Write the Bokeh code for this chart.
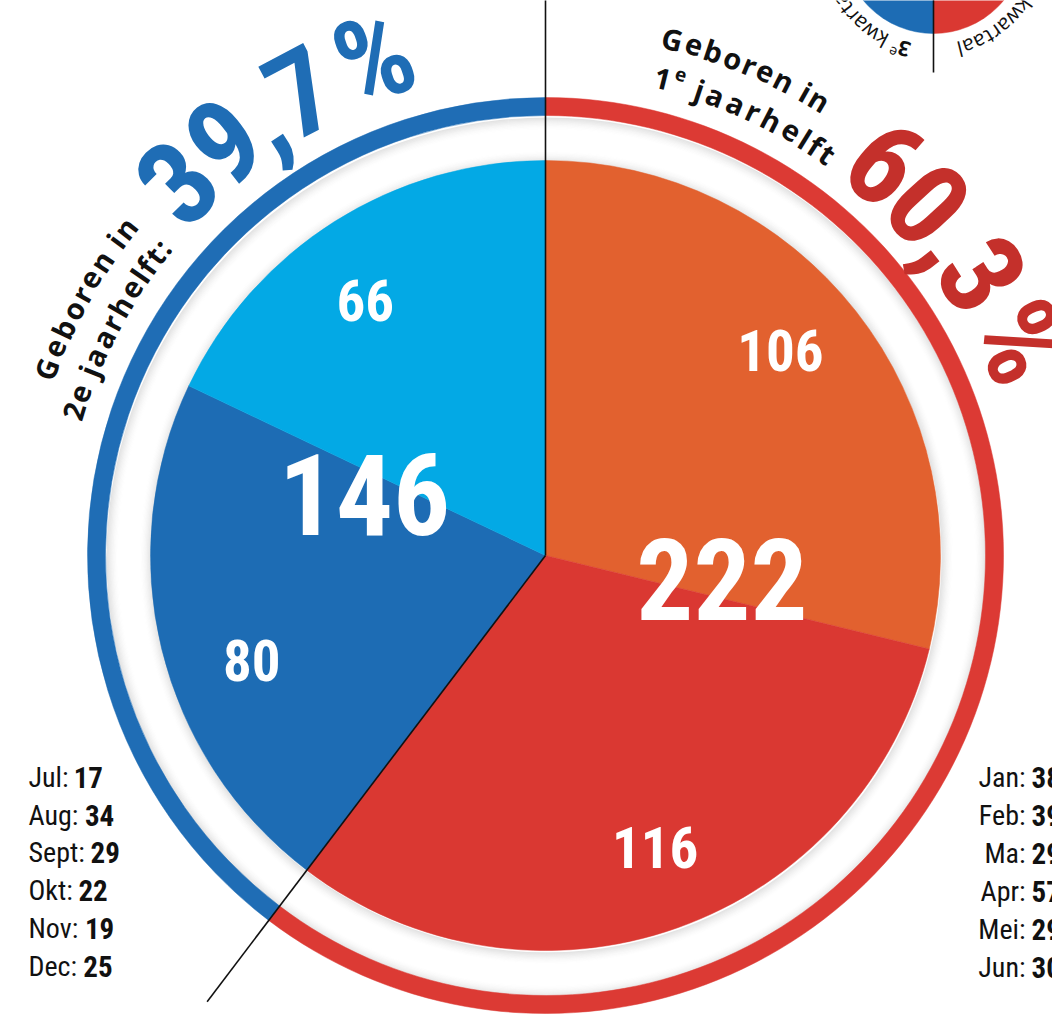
import numpy as np
from bokeh.plotting import figure
from bokeh.models import ColumnDataSource
from bokeh.core.properties import value
from bokeh.embed import file_html
from bokeh.resources import INLINE

# ---------------- data ----------------
months_h1 = ["Jan", "Feb", "Ma", "Apr", "Mei", "Jun"]
births_h1 = [38, 39, 29, 57, 29, 30]
months_h2 = ["Jul", "Aug", "Sept", "Okt", "Nov", "Dec"]
births_h2 = [17, 34, 29, 22, 19, 25]
quarter_names = ["1e kwartaal", "2e kwartaal", "3e kwartaal", "4e kwartaal"]
quarter_births = [sum(births_h1[0:3]), sum(births_h1[3:6]),
                  sum(births_h2[0:3]), sum(births_h2[3:6])]
half_births = [sum(births_h1), sum(births_h2)]
total = sum(half_births)
half_pct = [f"{100 * v / total:.1f}%".replace(".", ",") for v in half_births]

# ---------------- styles ----------------
QCOL = ["#e2612f", "#da3832", "#1d6cb4", "#03a9e5"]
RING_COL = ["#dc3a34", "#1f6db5"]
PCT_COL = ["#c4302b", "#1f6db5"]
COND = "'Roboto Condensed', Roboto, sans-serif"
HEAVY = "'Roboto Condensed Black', 'Roboto Condensed', Roboto, sans-serif"
SANS = "Open Sans"

W, H = 1052, 1014
def Y(yr):
    return H - yr

CX, CY = 545, Y(555)
R_PIE, R_RING_IN, R_RING_OUT = 395, 440, 458
Q_LABEL_NUDGE = [-3, -1, -6, -3]      # degrees, label placement only
H_LABEL_NUDGE = [-11, 0]

def pol(r, th, cx=CX, cy=CY):
    t = np.radians(np.asarray(th, dtype=float))
    return cx + r * np.sin(t), cy + r * np.cos(t)

def bk(th):
    return np.radians(90 - np.asarray(th, dtype=float))

W_TAB = {'G': 0.74, 'e': 0.58, 'b': 0.62, 'o': 0.61, 'r': 0.43, 'n': 0.63, ' ': 0.26,
         'i': 0.29, 'j': 0.29, 'a': 0.59, 'h': 0.63, 'l': 0.29, 'f': 0.37, 't': 0.41,
         ':': 0.28, ',': 0.24, '%': 0.80, 'k': 0.53, 'w': 0.78}
COND_REG = {'J': 0.47, 'u': 0.50, 'l': 0.22, ':': 0.21, 'A': 0.59, 'g': 0.50,
            'S': 0.53, 'e': 0.47, 'p': 0.50, 't': 0.29, 'O': 0.62, 'k': 0.45,
            'N': 0.64, 'o': 0.51, 'v': 0.44, 'D': 0.59, 'c': 0.47}

def wd(ch):
    if ch.isdigit():
        return 0.5
    return W_TAB.get(ch, 0.55)

def chars(s, size, raise_=0.0, font=SANS, style="bold", color="#111111"):
    return [(c, size, raise_, font, style, color) for c in s]

def place(items, ths, r_mid, cx, cy, out):
    for (c, size, rz, font, style, color), th in zip(items, ths):
        if c == " ":
            continue
        x, y = pol(r_mid + rz, th, cx, cy)
        out.append(dict(x=float(x), y=float(y), t=c, a=float(-np.radians(th)),
                        s=f"{size}px", font=font, style=style, color=color))

def arc_fit(items, th0, th1, r_mid, out, cx=CX, cy=CY):
    adv = np.array([wd(it[0]) * it[1] for it in items])
    cen = np.cumsum(adv) - adv / 2
    frac = (cen - cen[0]) / (cen[-1] - cen[0])
    place(items, th0 + frac * (th1 - th0), r_mid, cx, cy, out)

def arc_nat(items, th_anchor, r_mid, out, anchor="start", cx=CX, cy=CY):
    adv = np.array([wd(it[0]) * it[1] for it in items])
    cen = np.cumsum(adv) - adv / 2
    ref = cen[0] if anchor == "start" else cen[-1]
    ths = th_anchor + np.degrees((cen - ref) / r_mid)
    place(items, ths, r_mid, cx, cy, out)

# ---------------- figure ----------------
p = figure(width=W, height=H, x_range=(0, W), y_range=(0, H),
           output_backend="svg", toolbar_location=None, min_border=0,
           x_axis_type=None, y_axis_type=None, outline_line_color=None,
           background_fill_color="white", border_fill_color="white")

# shadows
for i in range(10):
    a = 0.11 * (1 - i / 10) ** 1.6
    p.annulus(x=CX + 1, y=CY - 2, inner_radius=R_PIE + i * 1.2, outer_radius=R_PIE + (i + 1) * 1.2,
              fill_color="black", fill_alpha=a, line_color=None)
    p.annulus(x=CX + 1, y=CY - 2, inner_radius=R_RING_IN - (i + 1) * 1.2, outer_radius=R_RING_IN - i * 1.2,
              fill_color="black", fill_alpha=a, line_color=None)

# main pie
cum = np.concatenate([[0], np.cumsum(quarter_births)]) / total * 360
qsrc = ColumnDataSource(dict(start=bk(cum[:-1]), end=bk(cum[1:]), color=QCOL,
                             name=quarter_names, births=quarter_births))
p.wedge(x=CX, y=CY, radius=R_PIE, start_angle="start", end_angle="end", direction="clock",
        fill_color="color", line_color="color", line_width=0.5, source=qsrc)

# outer ring per half year
hcum = np.concatenate([[0], np.cumsum(half_births)]) / total * 360
p.annular_wedge(x=CX, y=CY, inner_radius=R_RING_IN, outer_radius=R_RING_OUT,
                start_angle=bk(hcum[:-1]), end_angle=bk(hcum[1:]), direction="clock",
                fill_color=RING_COL, line_color=RING_COL, line_width=0.5)

# half-year divider lines
lx, ly = pol(np.array([620, 560]), hcum[:-1])
p.segment(x0=[CX, CX], y0=[CY, CY], x1=lx, y1=ly, line_color="#111111", line_width=1.6)

# quarter labels
qmid = (cum[:-1] + cum[1:]) / 2 + np.array(Q_LABEL_NUDGE)
qx, qy = pol(312, qmid)
p.text(x=qx, y=qy, text=[str(v) for v in quarter_births], text_align="center",
       text_baseline="middle", text_color="white", text_font=value(HEAVY),
       text_font_style="bold", text_font_size="57px")

# half labels
hmid = (hcum[:-1] + hcum[1:]) / 2 + np.array(H_LABEL_NUDGE)
hx, hy = pol(np.array([178, 191]), hmid)
p.text(x=hx, y=hy, text=[str(v) for v in half_births], text_align="center",
       text_baseline="middle", text_color="white", text_font=value(HEAVY),
       text_font_style="bold", text_font_size="113px")

# curved titles
recs = []
# 1st half (right)
arc_fit(chars("Geboren in", 29), 13.8, 31.0, 532, recs)
arc_fit(chars("1", 29) + chars("e", 19, 9) + chars(" jaarhelft", 29), 13.8, 35.1, 491, recs)
arc_fit(chars(half_pct[0], 118, 0, HEAVY, "bold", PCT_COL[0]), 40.9, 65.8, 520, recs)
# 2nd half (left)
arc_fit(chars("Geboren in", 29), 290.5, 307.9, 533, recs)
arc_fit(chars("2e jaarhelft:", 29), 287.0, 308.9, 493, recs)
arc_fit(chars(half_pct[1], 118, 0, HEAVY, "bold", PCT_COL[1]), 315.4, 341.0, 525, recs)

# small legend pie (top right, partly outside)
SCX, SCY, SR = 933, Y(-58), 91
p.wedge(x=SCX, y=SCY, radius=SR, start_angle=bk([0, 90, 180, 270]), end_angle=bk([90, 180, 270, 360]),
        direction="clock", fill_color=QCOL, line_color=QCOL, line_width=0.5)
sx, sy = pol(130, 180, SCX, SCY)
p.segment(x0=[SCX], y0=[SCY], x1=[sx], y1=[sy], line_color="#111111", line_width=1.6)
arc_nat(chars("2", 21, 0, SANS, "bold") + chars("e", 14, 7, SANS, "normal") +
        chars(" kwartaal", 21, 0, SANS, "normal"), 166, 110, recs, anchor="end", cx=SCX, cy=SCY)
arc_nat(chars("3", 21, 0, SANS, "bold") + chars("e", 14, 7, SANS, "normal") +
        chars(" kwartaal", 21, 0, SANS, "normal"), 195.5, 110, recs, anchor="start", cx=SCX, cy=SCY)

groups = {}
for r in recs:
    groups.setdefault((r["font"], r["style"]), []).append(r)
for (font, style), rs in groups.items():
    src = ColumnDataSource(dict(x=[r["x"] for r in rs], y=[r["y"] for r in rs],
                                t=[r["t"] for r in rs], a=[r["a"] for r in rs],
                                s=[r["s"] for r in rs], c=[r["color"] for r in rs]))
    p.text(x="x", y="y", text="t", angle="a", text_font_size="s", text_color="c",
           text_align="center", text_baseline="middle", text_font=value(font),
           text_font_style=style, source=src)

# month lists
FS_M = 28
def label_w(s):
    return sum(COND_REG.get(c, 0.48) for c in s) * FS_M

lab2 = [m + ":" for m in months_h2]
y2 = [Y(777 + 37.7 * i) for i in range(len(months_h2))]
p.text(x=[28] * len(lab2), y=y2, text=lab2, text_align="left", text_baseline="middle",
       text_font=value(COND), text_font_size=f"{FS_M}px", text_color="#111111")
p.text(x=[28 + label_w(l) + 6 for l in lab2], y=y2, text=[str(v) for v in births_h2],
       text_align="left", text_baseline="middle", text_font=value(COND),
       text_font_style="bold", text_font_size="29px", text_color="#111111")

lab1 = [m + ":" for m in months_h1]
y1 = [Y(777 + 38 * i) for i in range(len(months_h1))]
p.text(x=[1025] * len(lab1), y=y1, text=lab1, text_align="right", text_baseline="middle",
       text_font=value(COND), text_font_size=f"{FS_M}px", text_color="#111111")
p.text(x=[1031] * len(lab1), y=y1, text=[str(v) for v in births_h1],
       text_align="left", text_baseline="middle", text_font=value(COND),
       text_font_style="bold", text_font_size="29px", text_color="#111111")

open("out.html", "w").write(file_html(p, INLINE))
